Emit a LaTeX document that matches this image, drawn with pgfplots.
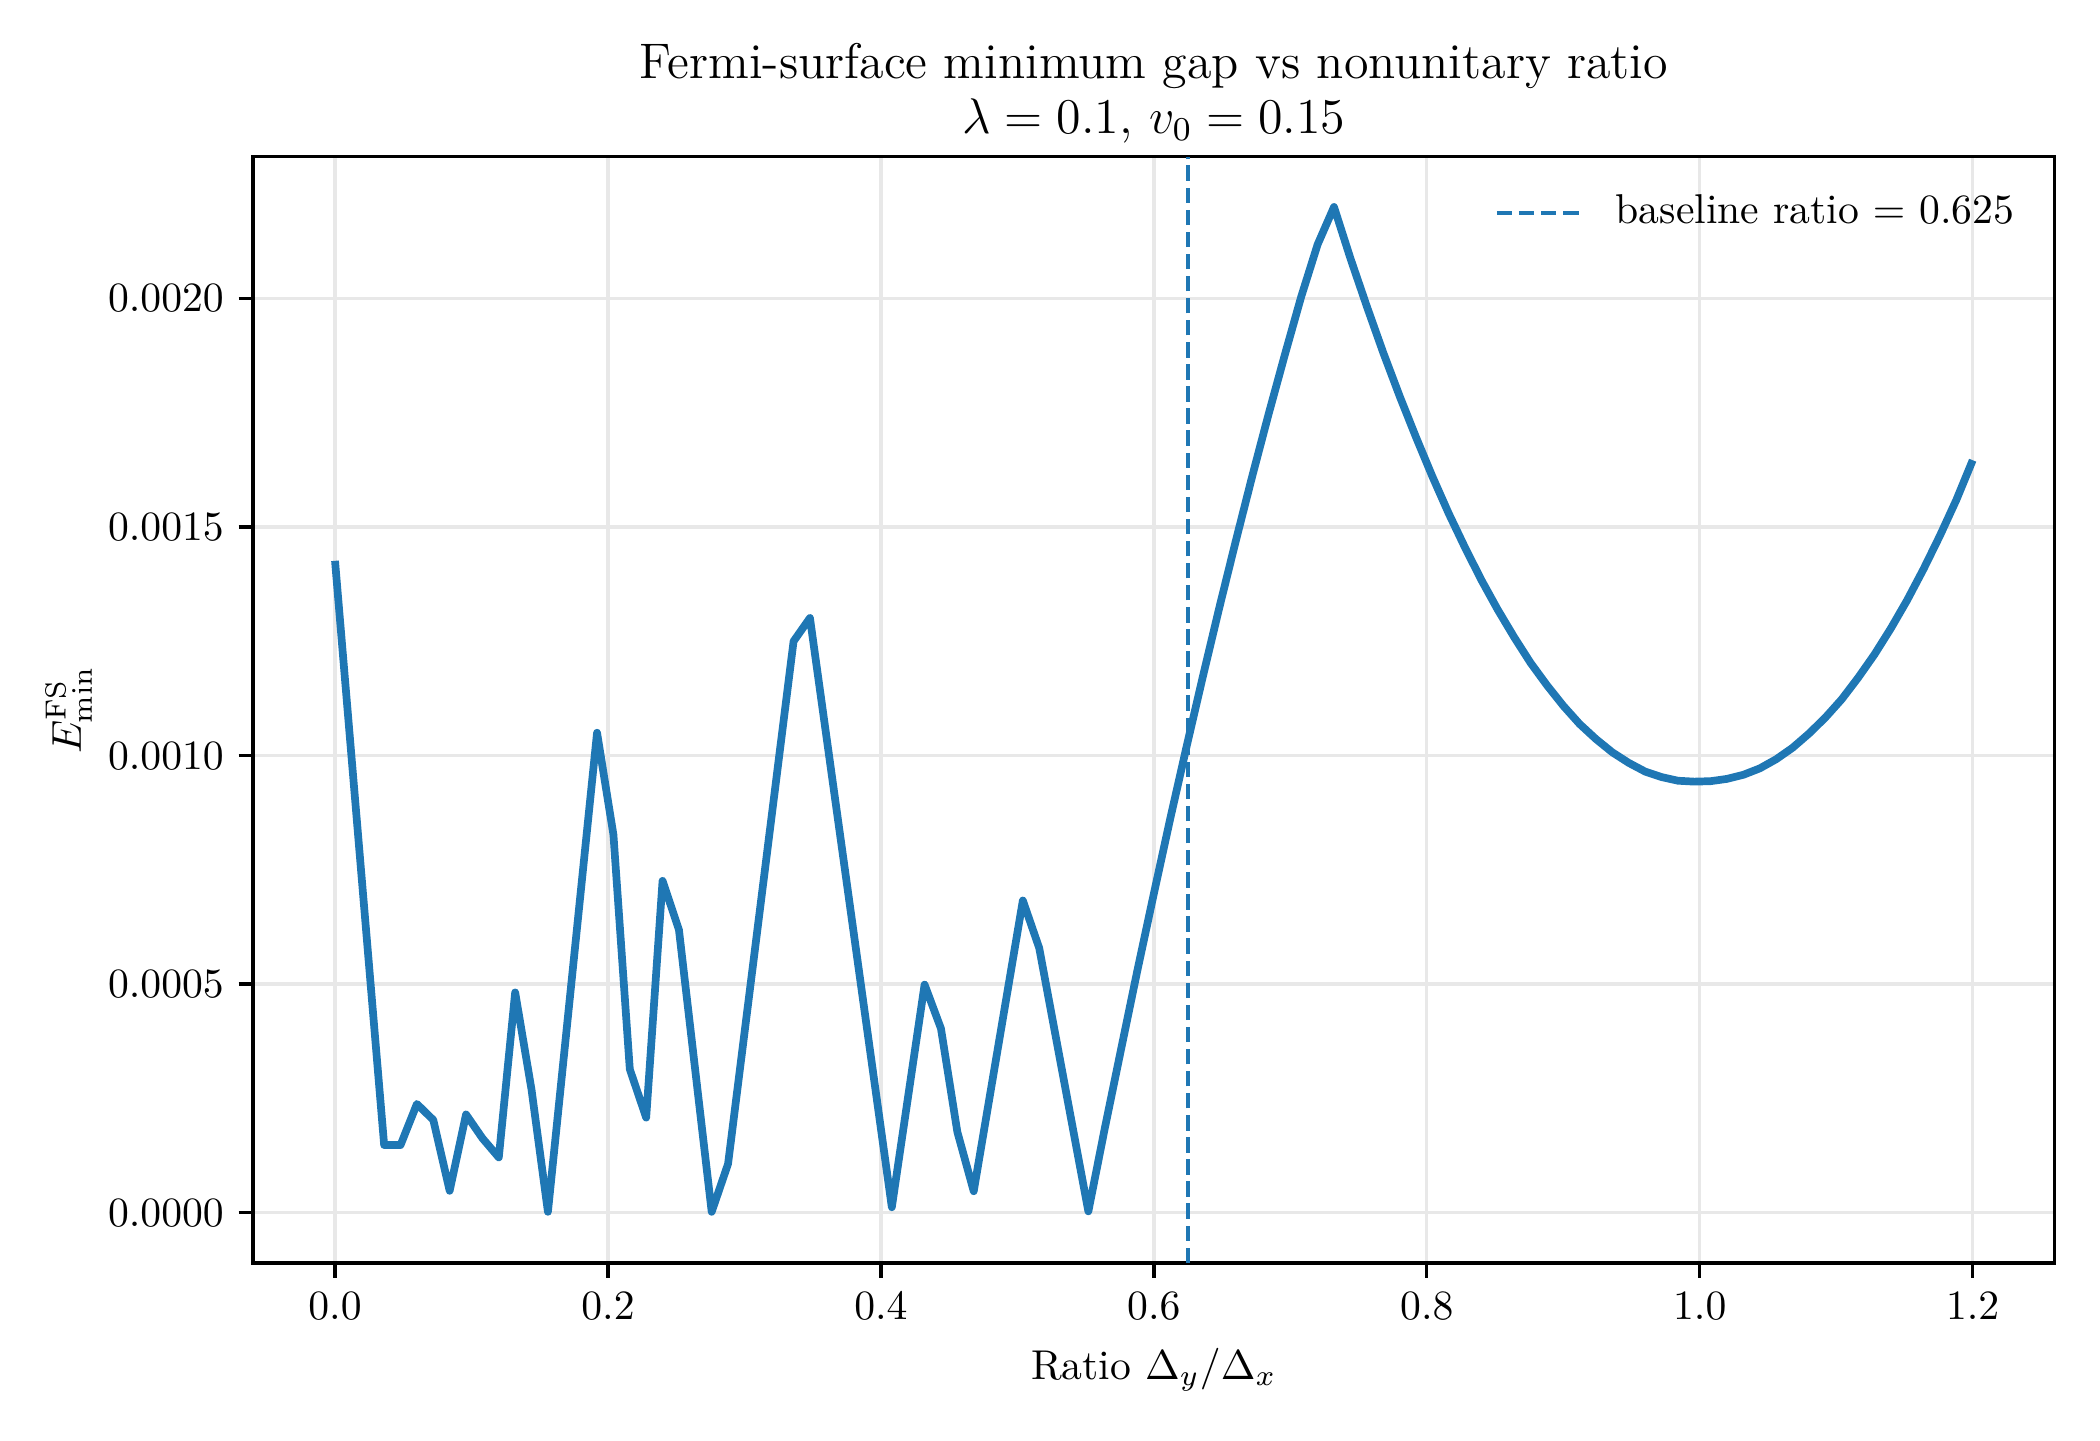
\documentclass[border=0pt]{standalone}
\usepackage{pgfplots}
\pgfplotsset{compat=1.18}
\definecolor{c0}{HTML}{1F77B4}
\begin{document}
\begin{tikzpicture}
\begin{axis}[
  at={(0,0)}, anchor=south west,
  scale only axis, width=432.3pt, height=265.5pt,
  xmin=-0.06, xmax=1.26, ymin=-0.00011, ymax=0.00231,
  xtick={0,0.2,0.4,0.6,0.8,1.0,1.2},
  ytick={0,0.0005,0.001,0.0015,0.002},
  scaled x ticks=false, scaled y ticks=false,
  xticklabel style={/pgf/number format/.cd, fixed, fixed zerofill, precision=1},
  yticklabel style={/pgf/number format/.cd, fixed, fixed zerofill, precision=4},
  tick align=outside, tick pos=left, major tick length=3.5pt,
  every tick/.style={black, line width=0.8pt},
  axis line style={line width=0.8pt},
  grid=major, major grid style={line width=0.8pt, color=black!9},
  xlabel={Ratio $\Delta_y/\Delta_x$},
  ylabel={$E^{\mathrm{FS}}_{\min}$},
  ylabel style={yshift=-3pt},
  title={Fermi-surface minimum gap vs nonunitary ratio\\[-1pt]$\lambda=0.1$, $v_0=0.15$},
  title style={align=center, font=\large, yshift=-6.2pt},
  legend style={at={(1,1)}, anchor=north east, xshift=-9.7pt, yshift=-9.2pt,
    draw=none, fill=none, inner sep=0pt, outer sep=0pt,
    nodes={inner sep=0pt}, column sep=8pt},
  legend image code/.code={\draw[#1] (0pt,0pt) -- (20pt,0pt);},
]
\addplot[c0, line width=1.85pt, line join=round, forget plot] coordinates {
(0.000,0.001426) (0.036,0.000148) (0.048,0.000148) (0.060,0.000238)
(0.072,0.000203) (0.084,0.000048) (0.096,0.000215) (0.108,0.000163)
(0.120,0.000121) (0.132,0.000482) (0.144,0.000269) (0.156,0.000002)
(0.192,0.001050) (0.204,0.000827) (0.216,0.000314) (0.228,0.000208)
(0.240,0.000726) (0.252,0.000619) (0.276,0.000002) (0.288,0.000107)
(0.336,0.001250) (0.348,0.001301) (0.408,0.000012) (0.432,0.000499)
(0.444,0.000403) (0.456,0.000177) (0.468,0.000047) (0.504,0.000683)
(0.516,0.000579) (0.552,0.000003) (0.564,0.000184) (0.576,0.000358)
(0.588,0.000531) (0.600,0.000698) (0.612,0.000862) (0.624,0.001020)
(0.636,0.001174) (0.648,0.001324) (0.660,0.001469) (0.672,0.001610)
(0.684,0.001746) (0.696,0.001877) (0.708,0.002004) (0.720,0.002118)
(0.732,0.002200) (0.744,0.002088) (0.756,0.001983) (0.768,0.001882)
(0.780,0.001787) (0.792,0.001697) (0.804,0.001611) (0.816,0.001530)
(0.828,0.001455) (0.840,0.001384) (0.852,0.001319) (0.864,0.001259)
(0.876,0.001203) (0.888,0.001154) (0.900,0.001109) (0.912,0.001069)
(0.924,0.001036) (0.936,0.001007) (0.948,0.000984) (0.960,0.000965)
(0.972,0.000953) (0.984,0.000945) (0.996,0.000943) (1.008,0.000944)
(1.020,0.000949) (1.032,0.000958) (1.044,0.000972) (1.056,0.000992)
(1.068,0.001017) (1.080,0.001048) (1.092,0.001083) (1.104,0.001123)
(1.116,0.001170) (1.128,0.001221) (1.140,0.001278) (1.152,0.001340)
(1.164,0.001408) (1.176,0.001481) (1.188,0.001559) (1.200,0.001646)
};
\addplot[c0, line width=1pt, dash pattern=on 3.7pt off 1.6pt] coordinates {(0.625,-0.00011) (0.625,0.00231)};
\addlegendentry{baseline ratio $=$ 0.625}
\end{axis}
\pgfresetboundingbox
\useasboundingbox (-60.75pt,-42.5pt) rectangle (443.2pt,303.1pt);
\end{tikzpicture}
\end{document}
